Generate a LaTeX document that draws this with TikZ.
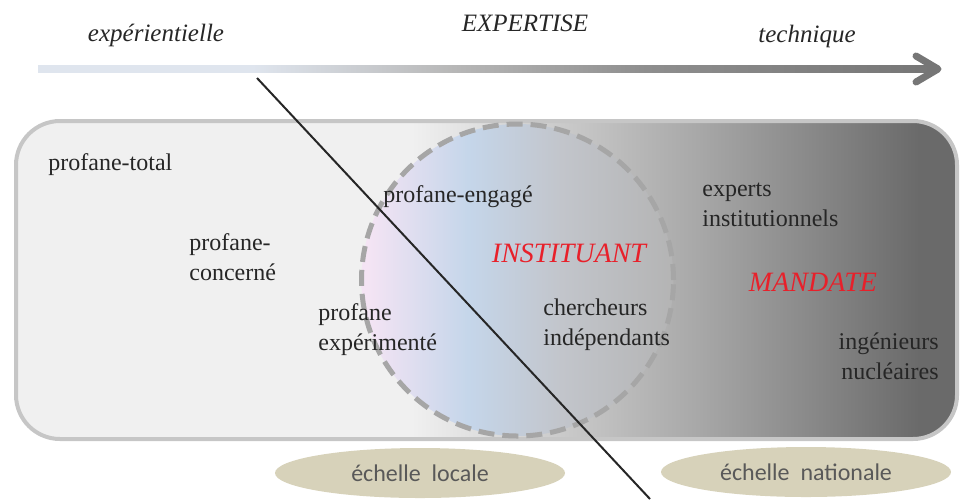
\documentclass[tikz,border=0pt]{standalone}
\usepackage{fontspec}
\setmainfont{Liberation Serif}
\newfontfamily\echfont{Carlito}
\usepackage {tikz}
\usetikzlibrary {positioning}
\usetikzlibrary{shapes.geometric}
\definecolor{axislight}{HTML}{DFE5EE}
\definecolor{axismid}{HTML}{B8B8B8}
\definecolor{axisgrey}{HTML}{8E8E8E}
\definecolor{axisdark}{HTML}{767676}
\definecolor{boxlight}{HTML}{F0F0F0}
\definecolor{boxmid}{HTML}{A9A9A9}
\definecolor{boxgrey}{HTML}{8A8A8A}
\definecolor{boxdark}{HTML}{6A6A6A}
\definecolor{boxborder}{HTML}{C6C6C6}
\definecolor{circpink}{HTML}{F4E4F4}
\definecolor{circblue}{HTML}{C5D6EA}
\definecolor{circgrey}{HTML}{C2C5CB}
\definecolor{circright}{HTML}{B4B4B4}
\definecolor{dashgrey}{HTML}{A6A6A6}
\definecolor{khaki}{HTML}{D7D2BA}
\definecolor{txt}{HTML}{262626}
\definecolor{mandred}{HTML}{E8202A}
\pgfdeclarehorizontalshading{axisshade}{100bp}{color(0bp)=(axislight); color(37bp)=(axislight); color(48bp)=(axismid); color(59bp)=(axisgrey); color(75bp)=(axisdark); color(100bp)=(axisdark)}
\pgfdeclarehorizontalshading{fieldshade}{100bp}{color(0bp)=(boxlight); color(46bp)=(boxlight); color(61bp)=(boxmid); color(67bp)=(boxgrey); color(73bp)=(boxdark); color(100bp)=(boxdark)}
\pgfdeclarehorizontalshading{instshade}{100bp}{color(0bp)=(circpink); color(26bp)=(circpink); color(42bp)=(circblue); color(57bp)=(circgrey); color(75bp)=(circright); color(100bp)=(circright)}
\tikzset{cut/.style = {draw=txt, line width=1pt}}

\begin{document}
\begin{tikzpicture}[x=0.5pt, y=-0.5pt, inner sep=0pt, text=txt,
    main node/.style={font=\fontsize{12}{15}\selectfont, align=left, anchor=west},
    axis node/.style={font=\fontsize{12.5}{15}\selectfont\itshape},
    red node/.style={font=\fontsize{14}{16}\selectfont\itshape, text=mandred},
    scale node/.style={ellipse, fill=khaki, minimum width=145pt, minimum height=25pt, font=\echfont\fontsize{12}{14}\selectfont, text=black!65}]
    \useasboundingbox (0,0) rectangle (961,499);
    % expertise axis
    \coordinate (axisStart) at (38,69);
    \coordinate (axisEnd) at (938,69);
    \shade[shading=axisshade] (38,65.5) rectangle (932,72.5);
    \draw[axisdark, line width=3.5pt, line cap=round, line join=round] (916,56) -- (axisEnd) -- (916,82);
    \node[axis node] (exp) at (156,35) {expérientielle};
    \node[axis node] (expertise) at (525,23) {EXPERTISE};
    \node[axis node] (tech) at (807,36) {technique};
    % field and circle
    \node[rounded corners=22pt, draw=boxborder, line width=2pt, shading=fieldshade, minimum width=941pt/2, minimum height=318pt/2] (field) at (486.5,280) {};
    \node[circle, minimum size=156pt, shading=instshade, draw=dashgrey, line width=2.5pt, dash pattern=on 8pt off 4pt] (inst) at (517.5,280) {};
    \coordinate (cutTop) at (257,78);
    \coordinate (cutBot) at (650,499);
    \draw[cut] (cutTop) -- (cutBot);
    % actors
    \node[main node] (total) at (48,165) {profane-total};
    \node[main node] (concerne) at (189,257) {profane-\\concerné};
    \node[main node] (experimente) at (318,330) {profane\\expérimenté};
    \node[main node] (engage) at (383,197) {profane-engagé};
    \node[red node] (instituant) at (569,253) {INSTITUANT};
    \node[main node] (chercheurs) at (543,325) {chercheurs\\indépendants};
    \node[main node] (experts) at (702,205) {experts\\institutionnels};
    \node[red node] (mandate) at (813,282) {MANDATE};
    \node[main node, align=right, anchor=east] (ingenieurs) at (939,356) {ingénieurs\\nucléaires};
    % scales
    \node[scale node] (locale) at (420,473) {échelle\ \ locale};
    \node[scale node] (nationale) at (806,472) {échelle\ \ nationale};
\end{tikzpicture}
\end{document}
